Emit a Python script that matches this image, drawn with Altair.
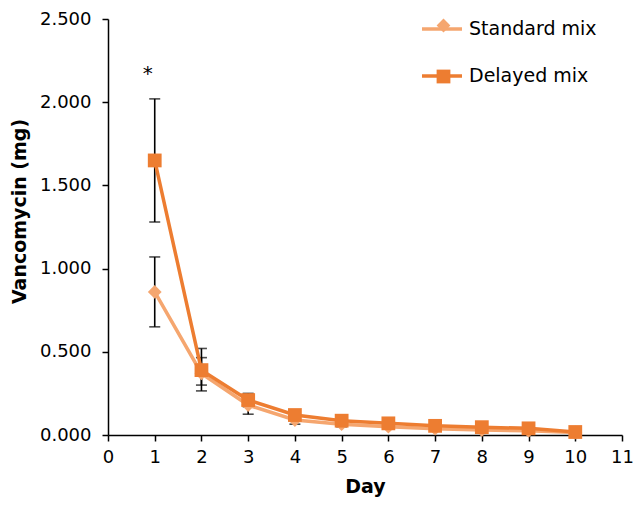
import altair as alt
import pandas as pd

days = [1, 2, 3, 4, 5, 6, 7, 8, 9, 10]
series_names = ["Standard mix", "Delayed mix"]
marker_keys = ["std", "del"]
marker_shapes = ["diamond", "square"]
colors = ["#F5A66F", "#ED7D31"]

standard_mean = [0.86, 0.37, 0.18, 0.09, 0.065, 0.05, 0.038, 0.03, 0.025, 0.015]
standard_lo = [0.65, 0.265, 0.125, 0.065, 0.05, 0.04, 0.03, 0.024, 0.02, 0.01]
standard_hi = [1.07, 0.465, 0.235, 0.115, 0.08, 0.06, 0.046, 0.036, 0.03, 0.02]

delayed_mean = [1.65, 0.39, 0.21, 0.12, 0.086, 0.07, 0.055, 0.047, 0.04, 0.018]
delayed_lo = [1.28, 0.30, 0.17, 0.10, 0.075, 0.06, 0.047, 0.04, 0.034, 0.014]
delayed_hi = [2.02, 0.52, 0.25, 0.14, 0.097, 0.08, 0.063, 0.054, 0.046, 0.022]

y_ticks = [0, 0.5, 1.0, 1.5, 2.0, 2.5]
x_ticks = list(range(0, 12))

star_day = [1]
star_y = [2.17]
star_text = ["*"]

rows = []
for s, mk, mean, lo, hi in [(series_names[0], marker_keys[0], standard_mean, standard_lo, standard_hi),
                            (series_names[1], marker_keys[1], delayed_mean, delayed_lo, delayed_hi)]:
    for i, d in enumerate(days):
        rows.append({"day": d, "series": s, "marker": mk, "value": mean[i],
                     "lo": lo[i], "hi": hi[i]})
df = pd.DataFrame(rows)
star_df = pd.DataFrame({"day": star_day, "y": star_y, "t": star_text})

FONT = "DejaVu Sans"

x_enc = alt.X("day:Q",
              scale=alt.Scale(domain=[0, 11], nice=False, zero=True),
              axis=alt.Axis(values=x_ticks, title="Day", format="d", grid=False,
                            titleFontSize=19, titleFontWeight="bold", titleFont=FONT,
                            titleBaseline="alphabetic", titleY=57,
                            labelFont=FONT, labelFontSize=18, labelPadding=7,
                            tickSize=6, labelFlush=False))
y_scale = alt.Scale(domain=[0, 2.5], nice=False)
y_axis = alt.Axis(values=y_ticks, format=".3f", title="Vancomycin (mg)", grid=False,
                  titleFontSize=19, titleFontWeight="bold", titleFont=FONT,
                  titleX=-89, titleY=192, titleBaseline="middle", titleAngle=-90,
                  labelFont=FONT, labelFontSize=18, labelPadding=11, tickSize=6,
                  labelFlush=False)

base = alt.Chart(df)

err_rule = base.mark_rule(color="black", strokeWidth=1.6).encode(
    x=x_enc,
    y=alt.Y("lo:Q", scale=y_scale, axis=y_axis),
    y2="hi:Q",
)
err_cap_hi = base.mark_tick(color="black", thickness=1.6, size=11, orient="horizontal").encode(
    x="day:Q", y=alt.Y("hi:Q", scale=y_scale))
err_cap_lo = base.mark_tick(color="black", thickness=1.6, size=11, orient="horizontal").encode(
    x="day:Q", y=alt.Y("lo:Q", scale=y_scale))

lines = base.mark_line(strokeWidth=3.5).encode(
    x="day:Q",
    y=alt.Y("value:Q", scale=y_scale),
    color=alt.Color("series:N",
                    scale=alt.Scale(domain=series_names, range=colors),
                    legend=alt.Legend(title=None, orient="none", legendX=312, legendY=-12,
                                      symbolType="stroke", symbolSize=1600,
                                      symbolStrokeWidth=3.5, labelFontSize=19,
                                      labelFont=FONT, labelColor="black",
                                      labelOffset=5, rowPadding=15, padding=0)),
    detail="series:N",
)

marker_legend = alt.Legend(title=None, orient="none", legendX=326, legendY=-3,
                           labelExpr="''", symbolSize=190, symbolStrokeWidth=0,
                           symbolOpacity=1, labelFontSize=19, rowPadding=31,
                           padding=0)
points = base.mark_point(filled=True, opacity=1, strokeWidth=0).encode(
    x="day:Q",
    y=alt.Y("value:Q", scale=y_scale),
    fill=alt.Fill("marker:N", scale=alt.Scale(domain=marker_keys, range=colors),
                  legend=marker_legend),
    shape=alt.Shape("marker:N", scale=alt.Scale(domain=marker_keys, range=marker_shapes),
                    legend=marker_legend),
    size=alt.value(190),
)

star = alt.Chart(star_df).mark_text(fontSize=20, font=FONT, color="black",
                                    baseline="middle", dx=-7).encode(
    x="day:Q", y=alt.Y("y:Q", scale=y_scale), text="t:N")

chart = alt.layer(err_rule, err_cap_hi, err_cap_lo, lines, points, star).properties(
    width=514, height=416,
    autosize=alt.AutoSizeParams(type="none"),
    padding={"left": 100, "top": 11, "right": 12, "bottom": 62},
    background="white",
).configure_view(stroke=None).configure_axis(
    grid=False, domainColor="black", tickColor="black", domainWidth=1.5,
    tickWidth=1.5, labelColor="black", titleColor="black",
    labelFont=FONT, titleFont=FONT,
)

chart.save("out.html", embed_options={"renderer": "svg", "actions": False})
